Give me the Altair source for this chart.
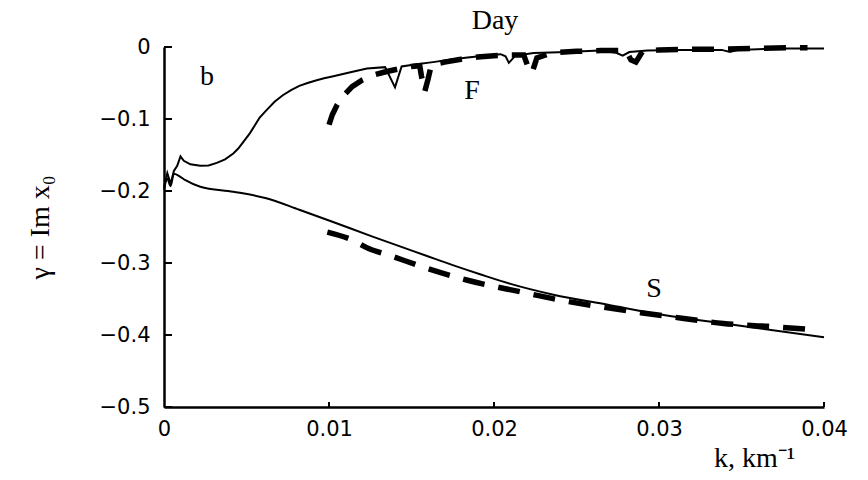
import altair as alt
import pandas as pd

# ---- data ----
# solid curve, fast mode F
f_solid_k = [0.0, 0.0002, 0.0004, 0.0006, 0.0008, 0.0010, 0.0012, 0.0016, 0.0022, 0.0027,
             0.0032, 0.0037, 0.0042, 0.0045, 0.0048, 0.0052, 0.0055, 0.0058, 0.0062, 0.0067,
             0.0072, 0.0077, 0.0082, 0.0087, 0.0092, 0.0097, 0.0102, 0.0113, 0.0123, 0.0134,
             0.0140, 0.0144, 0.0153, 0.0163, 0.0174, 0.0184, 0.0194, 0.0204, 0.0207, 0.0209,
             0.0213, 0.0224, 0.0234, 0.0244, 0.0254, 0.0264, 0.0274, 0.0278, 0.0282, 0.0293,
             0.0313, 0.0338, 0.0343, 0.0348, 0.0373, 0.0400]
f_solid_g = [-0.195, -0.175, -0.190, -0.172, -0.165, -0.152, -0.158, -0.163, -0.165, -0.1645,
             -0.161, -0.156, -0.148, -0.141, -0.132, -0.120, -0.109, -0.098, -0.088, -0.076,
             -0.067, -0.060, -0.054, -0.050, -0.0465, -0.0435, -0.041, -0.035, -0.030, -0.028,
             -0.056, -0.027, -0.024, -0.021, -0.0175, -0.0145, -0.012, -0.010, -0.013, -0.022,
             -0.012, -0.0085, -0.0075, -0.007, -0.006, -0.005, -0.008, -0.012, -0.007, -0.005,
             -0.004, -0.004, -0.007, -0.004, -0.002, -0.002]

# solid curve, slow mode S
s_solid_k = [0.0, 0.0002, 0.0004, 0.0006, 0.0009, 0.0013, 0.0022, 0.0042, 0.0062, 0.0082,
             0.0100, 0.0126, 0.0159, 0.0175, 0.0192, 0.0210, 0.0236, 0.0269, 0.0302, 0.0346,
             0.0400]
s_solid_g = [-0.198, -0.183, -0.193, -0.176, -0.179, -0.185, -0.194, -0.201, -0.210, -0.226,
             -0.241, -0.263, -0.290, -0.303, -0.316, -0.329, -0.344, -0.358, -0.372, -0.386,
             -0.403]

# dashed curve, fast mode F
f_dash_k = [0.0100, 0.0102, 0.0105, 0.0109, 0.0114, 0.0120, 0.0127, 0.0135, 0.0143, 0.0150,
            0.0155, 0.0156, 0.0158, 0.0160, 0.0162, 0.0170, 0.0180, 0.0190, 0.0200, 0.0210,
            0.0218, 0.0221, 0.0223, 0.0226, 0.0235, 0.0250, 0.0265, 0.0280, 0.0283, 0.0286,
            0.0290, 0.0300, 0.0320, 0.0340, 0.0360, 0.0380, 0.0390]
f_dash_g = [-0.108, -0.094, -0.080, -0.067, -0.055, -0.046, -0.039, -0.034, -0.030, -0.027,
            -0.026, -0.040, -0.062, -0.045, -0.025, -0.021, -0.017, -0.014, -0.012, -0.011,
            -0.011, -0.030, -0.036, -0.015, -0.008, -0.006, -0.005, -0.005, -0.018, -0.021,
            -0.006, -0.004, -0.003, -0.003, -0.002, -0.001, -0.001]

# dashed curve, slow mode S
s_dash_k = [0.0099, 0.0114, 0.0124, 0.0136, 0.0159, 0.0184, 0.0216, 0.0239, 0.0265, 0.0289,
            0.0315, 0.0339, 0.0366, 0.0390]
s_dash_g = [-0.257, -0.268, -0.280, -0.289, -0.307, -0.324, -0.340, -0.351, -0.361, -0.369,
            -0.377, -0.384, -0.388, -0.392]

x_ticks = [0.0, 0.01, 0.02, 0.03, 0.04]
y_ticks = [0.0, -0.1, -0.2, -0.3, -0.4, -0.5]

labels = ["Day", "b", "F", "S"]
label_k = [0.02006, 0.0026, 0.01867, 0.0297]
label_g = [0.036, -0.042, -0.061, -0.336]

# ---- tables ----
def frame(ks, gs):
    return pd.DataFrame({"k": ks, "g": gs, "order": range(len(ks))})

xt_df = pd.DataFrame({"k": x_ticks[1:]})
yt_df = pd.DataFrame({"g": y_ticks})
lab_df = pd.DataFrame({"k": label_k, "g": label_g, "label": labels})

xscale = alt.Scale(domain=[0, 0.04], nice=False, zero=False)
yscale = alt.Scale(domain=[-0.5, 0], nice=False, zero=False)

x_axis = alt.Axis(values=x_ticks, format=".2~f", labelFont="DejaVu Sans", labelFontSize=21,
                  labelColor="black", labelPadding=11, ticks=False, tickSize=0,
                  domainColor="black", domainWidth=2.5, grid=False, labelFlush=False,
                  labelOverlap=False, title="k, km⁻¹", titleFont="Liberation Serif",
                  titleFontSize=28, titleFontWeight="normal", titleColor="black",
                  titleX=590, titleY=59, titleAlign="center", titleBaseline="alphabetic")
y_axis = alt.Axis(values=y_ticks, format=".1~f", labelFont="DejaVu Sans", labelFontSize=21,
                  labelColor="black", labelPadding=14, ticks=False, tickSize=0,
                  domainColor="black", domainWidth=2.5, grid=False, labelFlush=False,
                  labelOverlap=False, title="γ = Im x₀", titleFont="Liberation Serif",
                  titleFontSize=28, titleFontWeight="normal", titleColor="black",
                  titleX=-124, titleY=180, titleAngle=-90, titleAlign="center",
                  titleBaseline="middle")

X = alt.X("k:Q", scale=xscale, axis=x_axis)
Y = alt.Y("g:Q", scale=yscale, axis=y_axis)

def solid_line(df, interp):
    return alt.Chart(df).mark_line(color="black", strokeWidth=2, interpolate=interp).encode(
        x=X, y=Y, order="order:Q")

def dashed_line(df, interp):
    return alt.Chart(df).mark_line(color="black", strokeWidth=5.5, strokeDash=[22, 14],
                                   strokeCap="butt", interpolate=interp).encode(
        x=X, y=Y, order="order:Q")

solid_f = solid_line(frame(f_solid_k, f_solid_g), "linear")
solid_s = solid_line(frame(s_solid_k, s_solid_g), "monotone")
dash_f = dashed_line(frame(f_dash_k, f_dash_g), "linear")
dash_s = dashed_line(frame(s_dash_k, s_dash_g), "monotone")

yt = alt.Chart(yt_df).mark_rule(color="black", strokeWidth=2).encode(
    y=Y, x=alt.value(0), x2=alt.value(8))
xt = alt.Chart(xt_df).mark_rule(color="black", strokeWidth=2).encode(
    x=X, y=alt.value(360), y2=alt.value(355))
txt = alt.Chart(lab_df).mark_text(font="Liberation Serif", fontSize=28, color="black",
                                  align="center", baseline="middle").encode(
    x=X, y=Y, text="label:N")

chart = alt.layer(solid_f, solid_s, dash_f, dash_s, yt, xt, txt).properties(
    width=660, height=360,
    autosize=alt.AutoSizeParams(type="none"),
    padding={"left": 164, "top": 47, "right": 44, "bottom": 73},
    background="white",
).configure_view(stroke=None)

chart.save("out.html", embed_options={"renderer": "svg", "actions": False})
